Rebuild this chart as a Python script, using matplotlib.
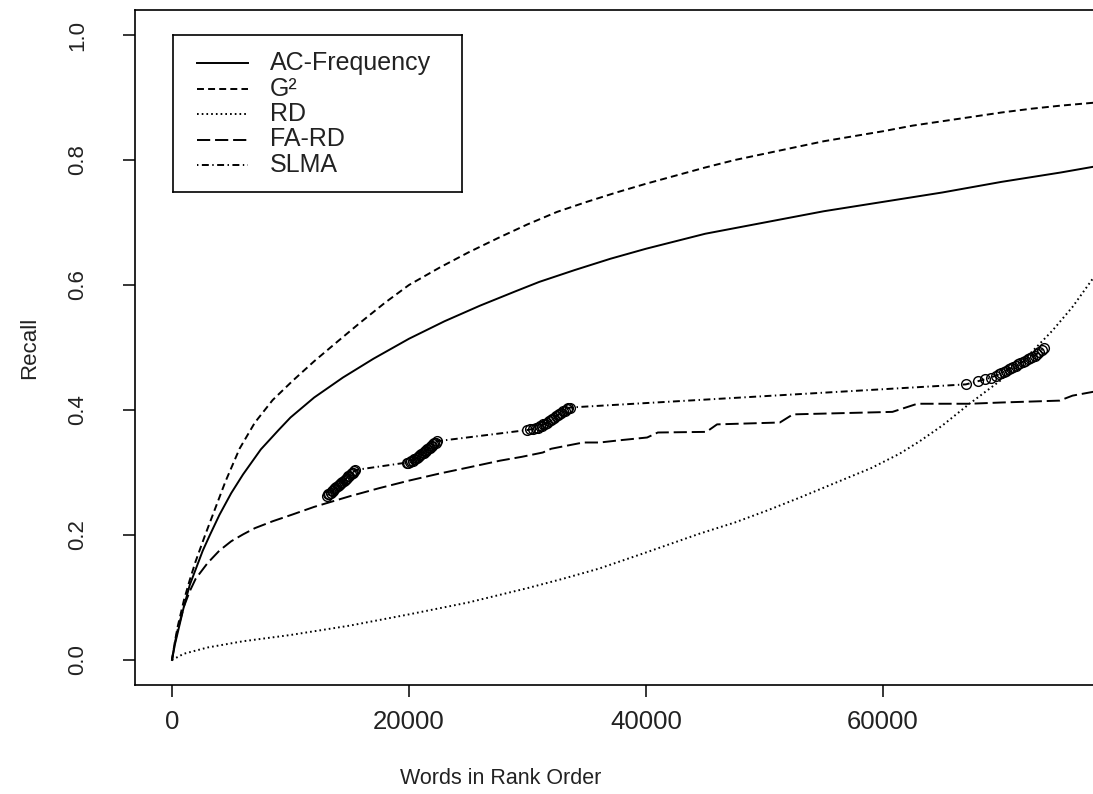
import matplotlib
matplotlib.use('Agg')
import matplotlib.pyplot as plt

plt.rcParams['font.family'] = ['Liberation Sans', 'DejaVu Sans']
plt.rcParams['lines.scale_dashes'] = False

# 数据
ac_x = [0, 250, 500, 1000, 1500, 2000, 2600, 3200, 4000, 5000, 6000, 7500, 9000, 10000,
        12000, 14430, 17000, 20000, 23000, 26000, 29000, 31000, 34000, 37000, 40000,
        45000, 50000, 55000, 60000, 65000, 70000, 75000, 78000]
ac_y = [0, 0.025, 0.045, 0.085, 0.12, 0.145, 0.175, 0.20, 0.232, 0.267, 0.297, 0.337, 0.368, 0.388,
        0.42, 0.452, 0.482, 0.514, 0.542, 0.567, 0.59, 0.605, 0.624, 0.642, 0.658,
        0.682, 0.70, 0.718, 0.733, 0.748, 0.765, 0.78, 0.79]

g2_x = [0, 250, 500, 1000, 1500, 2000, 2800, 3500, 4500, 5700, 7000, 8500, 10200, 12000,
        14000, 15900, 18000, 20000, 22600, 25000, 27500, 30000, 32500, 35000, 37500, 40000,
        42500, 45000, 47500, 50000, 52500, 55000, 57500, 60000, 62500, 65000, 67500, 70000,
        72500, 75000, 78000]
g2_y = [0, 0.03, 0.055, 0.095, 0.128, 0.158, 0.20, 0.235, 0.285, 0.338, 0.38, 0.416, 0.447, 0.478,
        0.51, 0.54, 0.572, 0.60, 0.628, 0.652, 0.675, 0.697, 0.717, 0.733, 0.748, 0.762,
        0.775, 0.788, 0.80, 0.81, 0.82, 0.83, 0.838, 0.846, 0.855, 0.862, 0.869, 0.876,
        0.882, 0.887, 0.892]

rd_x = [0, 1000, 3000, 6000, 10000, 15000, 20000, 25000, 30000, 33000, 36000, 40000, 44500,
        47500, 50200, 53000, 55800, 59000, 61400, 63100, 65000, 67300, 69900, 72000, 74300,
        76000, 77700, 78000]
rd_y = [0, 0.01, 0.02, 0.03, 0.04, 0.055, 0.073, 0.092, 0.115, 0.13, 0.146, 0.172, 0.202,
        0.22, 0.239, 0.26, 0.282, 0.307, 0.33, 0.35, 0.375, 0.41, 0.447, 0.482, 0.527,
        0.565, 0.61, 0.617]

fard_x = [0, 250, 500, 1000, 1500, 2000, 3000, 4000, 5000, 6000, 7000, 8500, 10200, 12000,
          15000, 17500, 20000, 22500, 25000, 27700, 29500, 31300, 32000, 34700, 36100,
          38000, 40100, 41000, 45100, 46000, 51300, 52400, 60800, 62900, 67300, 70000, 74900,
          76000, 78000]
fard_y = [0, 0.028, 0.05, 0.085, 0.11, 0.13, 0.155, 0.175, 0.19, 0.201, 0.211, 0.222, 0.233, 0.245,
          0.262, 0.275, 0.287, 0.298, 0.308, 0.319, 0.325, 0.332, 0.338, 0.348, 0.348,
          0.352, 0.356, 0.364, 0.365, 0.377, 0.38, 0.393, 0.397, 0.41, 0.41, 0.412, 0.415,
          0.423, 0.43]

slma_x = [13080, 13180, 13280, 13380, 13480, 13580, 13680, 13780, 13880, 13980, 14080, 14180,
          14280, 14380, 14480, 14580, 14680, 14780, 14880, 14980, 15080, 15180, 15280, 15380, 15480,
          19850, 19950, 20050, 20200, 20350, 20450, 20550, 20650, 20750, 20850, 20950, 21050,
          21150, 21250, 21350, 21450, 21550, 21650, 21750, 21850, 21950, 22050, 22150, 22250, 22350,
          30000, 30250, 30500, 30700, 30900, 31050, 31200, 31350, 31500, 31650, 31800, 31950,
          32100, 32250, 32400, 32550, 32700, 32850, 33000, 33150, 33300, 33450, 33600,
          67000, 68000, 68600, 69100, 69500, 69800, 70000, 70200, 70400, 70600, 70800, 71000,
          71200, 71400, 71600, 71800, 72000, 72200, 72400, 72600, 72800, 73000, 73200, 73400, 73550]
slma_y = [0.263, 0.265, 0.266, 0.268, 0.270, 0.271, 0.273, 0.275, 0.277, 0.278, 0.280, 0.282,
          0.283, 0.285, 0.287, 0.288, 0.290, 0.292, 0.294, 0.295, 0.297, 0.299, 0.300, 0.302, 0.304,
          0.316, 0.316, 0.317, 0.318, 0.319, 0.321, 0.322, 0.323, 0.325, 0.326, 0.328, 0.329,
          0.331, 0.332, 0.334, 0.335, 0.337, 0.339, 0.340, 0.342, 0.343, 0.345, 0.347, 0.348, 0.350,
          0.368, 0.369, 0.370, 0.371, 0.372, 0.374, 0.375, 0.377, 0.378, 0.380, 0.382, 0.384,
          0.386, 0.388, 0.390, 0.392, 0.394, 0.396, 0.398, 0.399, 0.401, 0.403, 0.404,
          0.441, 0.446, 0.449, 0.452, 0.455, 0.457, 0.459, 0.461, 0.463, 0.465, 0.467, 0.469,
          0.471, 0.473, 0.475, 0.477, 0.479, 0.481, 0.483, 0.485, 0.487, 0.490, 0.493, 0.496, 0.499]

legend_labels = ['AC-Frequency', 'G²', 'RD', 'FA-RD', 'SLMA']
x_ticks = [0, 20000, 40000, 60000]
x_tick_labels = ['0', '20000', '40000', '60000']
y_ticks = [0.0, 0.2, 0.4, 0.6, 0.8, 1.0]

# 线型
styles = {
    'AC-Frequency': dict(linestyle='-'),
    'G²': dict(dashes=(5.0, 3.0)),
    'RD': dict(dashes=(1.2, 2.2)),
    'FA-RD': dict(dashes=(9.5, 3.5)),
    'SLMA': dict(dashes=(1.0, 2.5, 5.0, 2.5)),
}
lw = 1.4
txt = '#222222'

W, H = 1093, 794
fig = plt.figure(figsize=(W / 100, H / 100), dpi=100)
# 原图右侧被裁掉，所以坐标区延伸到画布外
ax = fig.add_axes([135 / W, 1 - 685 / H, 998 / W, 675 / H])

ax.plot(ac_x, ac_y, color='black', lw=lw, **styles['AC-Frequency'])
ax.plot(g2_x, g2_y, color='black', lw=lw, **styles['G²'])
ax.plot(rd_x, rd_y, color='black', lw=lw, **styles['RD'])
ax.plot(fard_x, fard_y, color='black', lw=lw, **styles['FA-RD'])
ax.plot(slma_x, slma_y, color='black', lw=lw, marker='o', markersize=7,
        markerfacecolor='none', markeredgewidth=1.0, **styles['SLMA'])

ax.set_xlim(-3120, 81100)
ax.set_ylim(-0.04, 1.04)
ax.set_xticks(x_ticks)
ax.set_xticklabels(x_tick_labels)
ax.set_yticks(y_ticks)
ax.set_yticklabels(['%.1f' % v for v in y_ticks])
ax.tick_params(axis='both', direction='out', length=8.8, width=1.1, colors='black',
               labelcolor=txt, labelsize=16)
ax.tick_params(axis='x', pad=9, labelsize=18.5)
ax.tick_params(axis='y', pad=25, labelrotation=90)
for lab in ax.get_yticklabels():
    lab.set_va('center')
for sp in ax.spines.values():
    sp.set_linewidth(1.2)

ax.set_xlabel('Words in Rank Order', fontsize=15.5, color=txt)
ax.set_ylabel('Recall', fontsize=16, color=txt)
ax.xaxis.set_label_coords((501 - 135) / 998, (685 - 778) / 675)
ax.xaxis.label.set_va('center')
ax.yaxis.set_label_coords((30 - 135) / 998, 0.5)
ax.yaxis.label.set_va('center')

# 图例（手工画框）
lg = fig.add_axes([173 / W, 1 - 192 / H, 289 / W, 157 / H], zorder=5)
lg.set_xlim(0, 289)
lg.set_ylim(157, 0)
lg.set_xticks([])
lg.set_yticks([])
for sp in lg.spines.values():
    sp.set_linewidth(1.2)
for i, name in enumerate(legend_labels):
    yy = 28 + i * 25.5
    lg.plot([24, 75], [yy, yy], color='black', lw=lw, **styles[name])
    lg.text(97, yy, name, va='center', ha='left', fontsize=18, color=txt)

fig.savefig('out.png', dpi=100)
